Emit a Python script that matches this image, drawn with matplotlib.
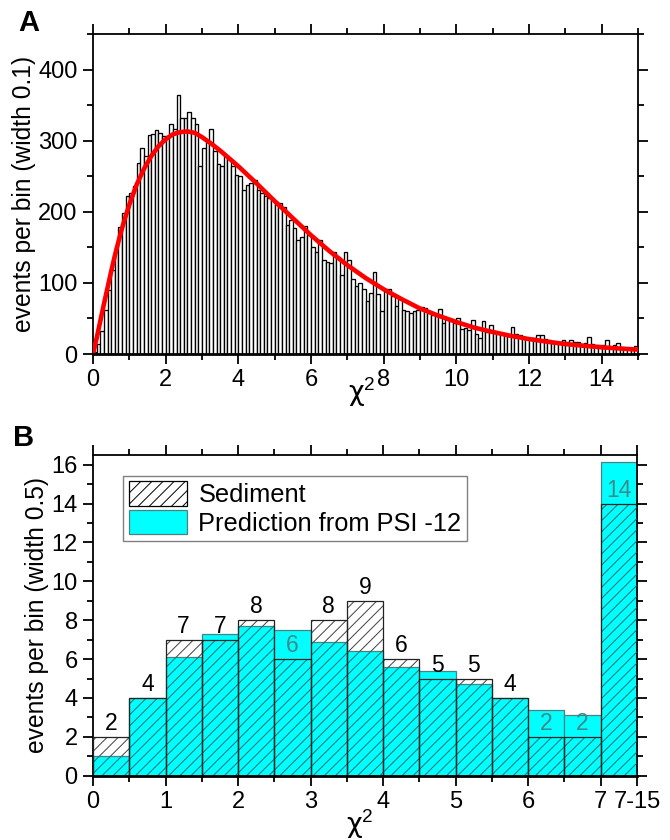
import matplotlib
matplotlib.use("Agg")
import matplotlib.pyplot as plt
import numpy as np
from matplotlib.ticker import MultipleLocator, FixedLocator
from matplotlib.patches import Patch

plt.rcParams['font.family'] = ['Liberation Sans', 'DejaVu Sans']
plt.rcParams['hatch.linewidth'] = 0.7
plt.rcParams['mathtext.fontset'] = 'custom'
plt.rcParams['mathtext.rm'] = 'Liberation Sans'
plt.rcParams['mathtext.it'] = 'Liberation Sans'

# ---------------- Panel A data ----------------
bin_width_a = 0.1
counts_a = [
    3, 14, 33, 62, 90, 118, 151, 179, 198, 222,
    226, 236, 268, 289, 278, 308, 310, 315, 311, 307,
    306, 323, 317, 364, 332, 332, 341, 332, 323, 265,
    290, 298, 317, 286, 267, 265, 278, 275, 264, 252,
    250, 231, 237, 240, 245, 231, 226, 222, 219, 217,
    214, 212, 207, 182, 189, 177, 161, 164, 180, 168,
    151, 144, 161, 132, 130, 128, 144, 137, 111, 143,
    132, 105, 96, 100, 91, 74, 86, 115, 85, 61,
    89, 91, 81, 68, 77, 62, 61, 58, 60, 62,
    66, 64, 57, 55, 53, 63, 43, 49, 49, 43,
    50, 35, 36, 34, 48, 28, 22, 46, 31, 41,
    31, 30, 29, 27, 26, 38, 28, 27, 24, 23,
    22, 22, 27, 27, 21, 19, 15, 17, 16, 20,
    17, 19, 17, 17, 14, 15, 24, 14, 13, 12,
    12, 19, 10, 12, 16, 10, 8, 8, 8, 11,
]
curve_x = [0, 0.1, 0.2, 0.3, 0.4, 0.5, 0.6, 0.7, 0.8, 0.9, 1.0, 1.2, 1.4, 1.6,
           1.8, 2.0, 2.2, 2.4, 2.6, 2.8, 3.0, 3.25, 3.5, 3.75, 4.0, 4.5, 5.0,
           5.5, 6.0, 6.5, 7.0, 7.5, 8.0, 8.5, 9.0, 9.5, 10.0, 10.5, 11.0, 11.5,
           12.0, 12.5, 13.0, 13.5, 14.0, 14.5, 15.0]
curve_y = [0, 22, 46, 70, 93, 116, 138, 158, 177, 194, 210, 238, 260, 278,
           292, 302, 309, 312, 313, 311, 305, 296, 286, 275, 264, 240, 215,
           191, 167, 145, 125, 107, 91, 77, 64, 54, 45, 37, 31, 25.5,
           21, 17.3, 14, 11.6, 9.4, 7.7, 6.2]

# ---------------- Panel B data ----------------
bin_width_b = 0.5
sediment = [2, 4, 7, 7, 8, 6, 8, 9, 6, 5, 5, 4, 2, 2, 14]
prediction = [1.0, 4.0, 6.1, 7.3, 7.7, 7.5, 6.9, 6.4, 5.6, 5.4, 4.7, 4.0, 3.38, 3.1, 16.15]
xtick_pos_b = [0, 1, 2, 3, 4, 5, 6, 7, 7.5]
xtick_lab_b = ["0", "1", "2", "3", "4", "5", "6", "7", "7-15"]

fig = plt.figure(figsize=(6.7, 8.4), dpi=100)
axA = fig.add_axes([93/670, 1-354/840, (638-93)/670, (354-34)/840])
axB = fig.add_axes([93/670, 1-775.7/840, (637-93)/670, (775.7-455)/840])

# ---------- Panel A ----------
left_a = np.arange(len(counts_a)) * bin_width_a
axA.bar(left_a, counts_a, width=bin_width_a, align='edge', facecolor='white',
        edgecolor='black', linewidth=0.95, zorder=2)
axA.plot(curve_x, curve_y, color='red', lw=3.3, solid_capstyle='round', zorder=3)
axA.set_xlim(0, 15)
axA.set_ylim(0, 450)
axA.xaxis.set_major_locator(MultipleLocator(2))
axA.xaxis.set_minor_locator(MultipleLocator(1))
axA.yaxis.set_major_locator(MultipleLocator(100))
axA.yaxis.set_minor_locator(MultipleLocator(50))
axA.set_ylabel('events per bin (width 0.1)', fontsize=17.7, labelpad=2)
axA.set_xlabel('χ$^{2}$', fontsize=19.5, family=['DejaVu Sans'])
axA.xaxis.set_label_coords((362-93)/545, (354-375)/320)

# ---------- Panel B ----------
left_b = np.arange(len(sediment)) * bin_width_b
sed = np.array(sediment, dtype=float)
pred = np.array(prediction, dtype=float)
axB.bar(left_b, pred, width=bin_width_b, align='edge', color='#00FFFF',
        edgecolor='#4f8080', linewidth=0.9, zorder=2)
low = np.minimum(sed, pred)
axB.bar(left_b, low, width=bin_width_b, align='edge', facecolor='none',
        edgecolor='#1f6b6b', hatch='///', linewidth=0, zorder=3)
axB.bar(left_b, np.maximum(sed - pred, 0), bottom=pred, width=bin_width_b,
        align='edge', facecolor='none', edgecolor='#404040', hatch='///',
        linewidth=0, zorder=3)
axB.bar(left_b, sed, width=bin_width_b, align='edge', facecolor='none',
        edgecolor='#222222', linewidth=0.9, zorder=4)
for xl, s, p in zip(left_b, sediment, prediction):
    ty = s + 0.68
    col = '#3d8a8a' if ty + 0.3 < p else 'black'
    axB.text(xl + bin_width_b/2, ty, str(s), ha='center', va='center',
             fontsize=16.5, color=col, zorder=5)

axB.set_xlim(0, 7.5)
axB.set_ylim(0, 16.5)
axB.xaxis.set_major_locator(FixedLocator(xtick_pos_b))
axB.set_xticklabels(xtick_lab_b)
axB.xaxis.set_minor_locator(MultipleLocator(0.5))
axB.yaxis.set_major_locator(MultipleLocator(2))
axB.yaxis.set_minor_locator(MultipleLocator(1))
axB.set_ylabel('events per bin (width 0.5)', fontsize=17.7, labelpad=2)
axB.set_xlabel('χ$^{2}$', fontsize=19.5, family=['DejaVu Sans'])
axB.xaxis.set_label_coords((360-93)/544, (775.7-807)/320.7)

handles = [Patch(facecolor='white', edgecolor='black', hatch='///', linewidth=0.9),
           Patch(facecolor='#00FFFF', edgecolor='#4f8080', linewidth=0.9)]
leg = axB.legend(handles, ['Sediment', 'Prediction from PSI -12'],
                 loc='upper left', bbox_to_anchor=(0.055, 0.935),
                 fontsize=18.3, fancybox=False, framealpha=1, edgecolor='#808080',
                 handlelength=2.3, handleheight=1.1, handletextpad=0.45,
                 labelspacing=0.1, borderpad=0.22, borderaxespad=0)
leg.get_frame().set_linewidth(1.0)
leg.set_zorder(6)

for ax in (axA, axB):
    ax.tick_params(which='both', direction='out', top=True, right=True,
                   width=1.3, labelsize=17)
    ax.tick_params(which='major', length=7, pad=4)
    ax.tick_params(which='minor', length=4)
    for sp in ax.spines.values():
        sp.set_linewidth(1.3)
    ax.spines['bottom'].set_linewidth(2.0)
    ax.spines['bottom'].set_zorder(5)

fig.text(29/670, 1-23/840, 'A', fontsize=21, fontweight='bold', ha='center', va='center')
fig.text(24/670, 1-438/840, 'B', fontsize=21, fontweight='bold', ha='center', va='center')

fig.savefig('out.png', dpi=100)
